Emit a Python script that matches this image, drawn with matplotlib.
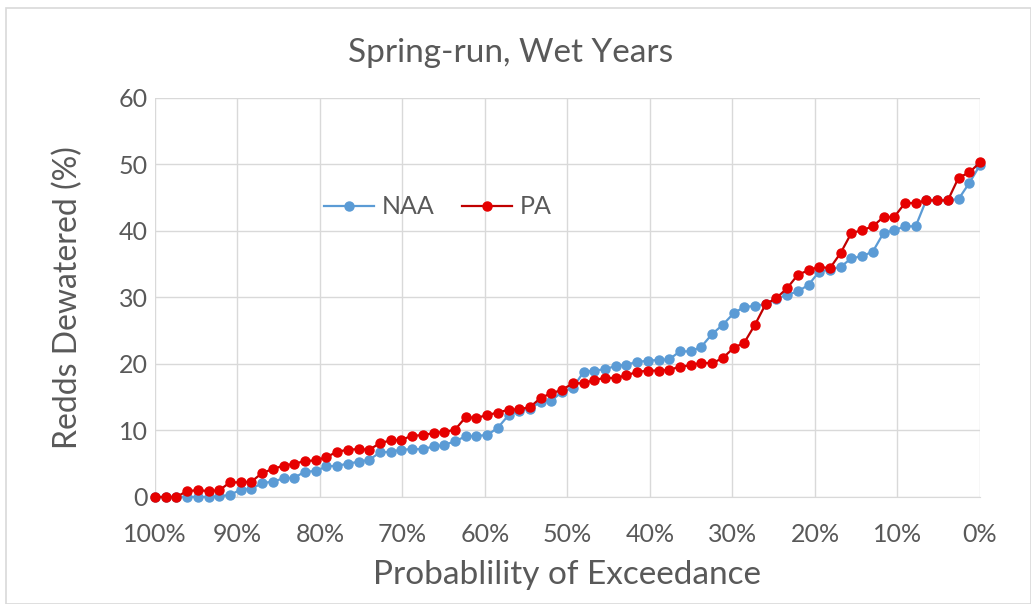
import numpy as np
import matplotlib.pyplot as plt
from matplotlib.patches import Rectangle
from matplotlib.ticker import FuncFormatter

## data ################################

title = "Spring-run, Wet Years"
x_label = "Probablility of Exceedance"
y_label = "Redds Dewatered (%)"

naa = [0, 0, 0, 0, 0, 0, 0.1, 0.3, 1.1, 1.2, 2.1, 2.3, 2.8, 2.9, 3.8, 3.9,
       4.6, 4.7, 5.0, 5.3, 5.6, 6.7, 6.8, 7.1, 7.2, 7.2, 7.6, 7.8, 8.4,
       9.1, 9.2, 9.3, 10.4, 12.3, 13.0, 13.3, 14.3, 14.5, 15.8, 16.4, 18.8, 19.0, 19.2, 19.7,
       19.9, 20.3, 20.5, 20.6, 20.7, 21.9, 21.9, 22.6, 24.5, 25.9, 27.6, 28.6, 28.7, 29.0, 29.8,
       30.4, 30.9, 31.9, 33.9, 34.2, 34.6, 35.9, 36.2, 36.9, 39.7, 40.1, 40.7, 40.7, 44.7,
       44.6, 44.6, 44.8, 47.2, 49.9]

pa = [0, 0, 0, 0.9, 1.0, 0.9, 1.0, 2.2, 2.2, 2.3, 3.6, 4.2, 4.7, 5.0, 5.4, 5.5,
      6.0, 6.8, 7.1, 7.2, 7.1, 8.1, 8.5, 8.6, 9.2, 9.3, 9.6, 9.8, 10.1,
      12.0, 11.9, 12.3, 12.7, 13.1, 13.2, 13.5, 14.9, 15.6, 16.1, 17.1, 17.1, 17.6, 17.9, 17.9,
      18.3, 18.8, 19.0, 19.0, 19.1, 19.6, 19.8, 20.2, 20.1, 20.9, 22.4, 23.2, 25.9, 29.0, 29.9,
      31.4, 33.4, 34.1, 34.6, 34.4, 36.7, 39.7, 40.1, 40.7, 42.1, 42.1, 44.2, 44.2, 44.6,
      44.6, 44.6, 48.0, 48.8, 50.3]

# exceedance probability, 100% down to 0%
exceed = np.linspace(100, 0, len(naa))

x_ticks = list(range(100, -1, -10))
y_ticks = list(range(0, 61, 10))

## plot ################################

plt.rcParams['font.family'] = ['Lato', 'DejaVu Sans']
text_col = '#595959'
grid_col = '#d9d9d9'

fig = plt.figure(figsize=(10.31, 6.04), dpi=100)
fig.patches.append(Rectangle((0.006, 0.0), 0.994, 0.986, transform=fig.transFigure,
                             fill=False, edgecolor=grid_col, linewidth=1.2))

ax = fig.add_axes([0.1503, 0.1772, 0.8002, 0.6606])

ax.plot(exceed, naa, color='#5b9bd5', lw=1.6, marker='o', ms=6.5,
        mfc='#5b9bd5', mec='#5b9bd5', label='NAA', clip_on=False, zorder=3)
ax.plot(exceed, pa, color='#c00000', lw=1.6, marker='o', ms=6.5,
        mfc='#e60000', mec='#e60000', label='PA', clip_on=False, zorder=4)

ax.set_xlim(100, 0)
ax.set_ylim(0, 60)
ax.set_xticks(x_ticks)
ax.set_yticks(y_ticks)
ax.xaxis.set_major_formatter(FuncFormatter(lambda v, p: '%d%%' % v))

ax.grid(True, color=grid_col, lw=1.0)
ax.set_axisbelow(True)
for s in ['top', 'right', 'left']:
    ax.spines[s].set_visible(False)
ax.spines['bottom'].set_color(grid_col)
ax.tick_params(length=0, labelsize=18, colors=text_col)
ax.tick_params(axis='x', pad=19)
ax.tick_params(axis='y', pad=5)

# chart title is centred on the whole chart, not the plot area
fig.text(0.495, 0.913, title, fontsize=24, color=text_col, ha='center', va='center')
ax.set_xlabel(x_label, fontsize=24, color=text_col, labelpad=10)
ax.set_ylabel(y_label, fontsize=23, color=text_col, labelpad=26)

leg = ax.legend(loc='center', bbox_to_anchor=(0.343, 0.727), ncol=2, frameon=False,
                fontsize=18, handlelength=2.0, columnspacing=1.1, handletextpad=0.3)
for t in leg.get_texts():
    t.set_color(text_col)

fig.savefig('out.png', dpi=100)
